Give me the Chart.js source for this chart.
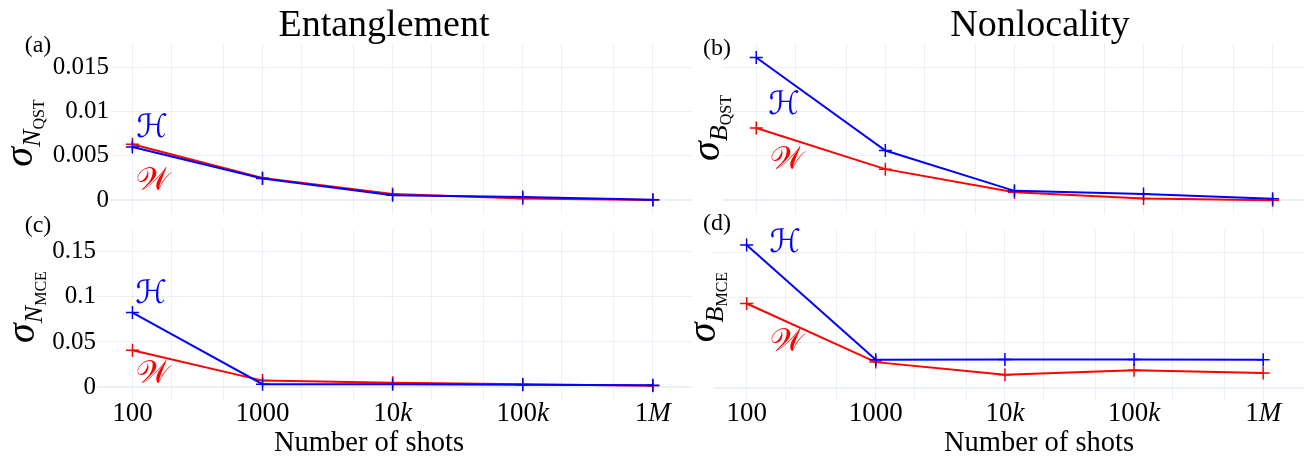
<!DOCTYPE html>
<html>
<head>
<meta charset="utf-8">
<script src="https://cdn.jsdelivr.net/npm/chart.js@4.4.1/dist/chart.umd.min.js"></script>
<style>
  body { margin: 0; background: #fff; }
  #wrap { position: relative; width: 1312px; height: 459px; overflow: hidden; background: #fff; font-family: 'Liberation Serif', serif; color: #000; }
  .pane { position: absolute; }
  .txt { position: absolute; white-space: nowrap; transform: translate(-50%, -50%); line-height: 1; }
  .ytitle { position: absolute; white-space: nowrap; transform: translate(-50%, -50%) rotate(-90deg); line-height: 1; }
  .ytitle .s { font-style: italic; font-size: 40px; }
  .ytitle .n { font-style: italic; font-size: 26px; position: relative; top: 8px; }
  .ytitle .q { font-size: 16px; position: relative; top: 12px; }
  .scr { position: absolute; transform: translate(-50%, -50%); font-family: 'DejaVu Sans', sans-serif; font-size: 32px; line-height: 1; }
</style>
</head>
<body>
<div id="wrap">
  <div class="pane" style="left:0;top:0"><canvas id="cA" width="700" height="222"></canvas></div>
  <div class="pane" style="left:700px;top:0"><canvas id="cB" width="612" height="222"></canvas></div>
  <div class="pane" style="left:0;top:222px"><canvas id="cC" width="700" height="237"></canvas></div>
  <div class="pane" style="left:700px;top:222px"><canvas id="cD" width="612" height="237"></canvas></div>

  <div class="txt" style="left:384px;top:23px;font-size:38px">Entanglement</div>
  <div class="txt" style="left:1040px;top:23px;font-size:38px">Nonlocality</div>

  <div class="txt" style="left:38px;top:44px;font-size:24px">(a)</div>
  <div class="txt" style="left:717px;top:47px;font-size:24px">(b)</div>
  <div class="txt" style="left:38px;top:224px;font-size:24px">(c)</div>
  <div class="txt" style="left:717px;top:222px;font-size:24px">(d)</div>

  <div class="ytitle" style="left:19px;top:133px"><span class="s">σ</span><span class="n">N</span><span class="q">QST</span></div>
  <div class="ytitle" style="left:706px;top:128px"><span class="s">σ</span><span class="n">B</span><span class="q">QST</span></div>
  <div class="ytitle" style="left:21px;top:307px"><span class="s">σ</span><span class="n">N</span><span class="q">MCE</span></div>
  <div class="ytitle" style="left:702px;top:307px"><span class="s">σ</span><span class="n">B</span><span class="q">MCE</span></div>

  <div class="scr" style="left:152px;top:126px;color:#0000ff">ℋ</div>
  <div class="scr" style="left:153px;top:179px;color:#ff0000">𝒲</div>
  <div class="scr" style="left:784px;top:103px;color:#0000ff">ℋ</div>
  <div class="scr" style="left:787px;top:158px;color:#ff0000">𝒲</div>
  <div class="scr" style="left:151px;top:292px;color:#0000ff">ℋ</div>
  <div class="scr" style="left:153px;top:372px;color:#ff0000">𝒲</div>
  <div class="scr" style="left:785px;top:241px;color:#0000ff">ℋ</div>
  <div class="scr" style="left:787px;top:340px;color:#ff0000">𝒲</div>

  <div class="txt" style="left:369px;top:442px;font-size:28.5px">Number of shots</div>
  <div class="txt" style="left:1039px;top:442px;font-size:28.5px">Number of shots</div>
</div>
<script>
// number of shots
const shots = [100, 1000, 10000, 100000, 1000000];
const xTickLabels = ['100', '1000', '10k', '100k', '1M'];
const xGridVals = [100, 200, 500, 1000, 2000, 5000, 10000, 20000, 50000, 100000, 200000, 500000, 1000000];

// y ticks
const yTicksNQST = [0, 0.005, 0.01, 0.015];
const yLabelsNQST = ['0', '0.005', '0.01', '0.015'];
const yTicksNMCE = [0, 0.05, 0.1, 0.15];
const yLabelsNMCE = ['0', '0.05', '0.1', '0.15'];
const yTicksB = [0, 1, 2, 3];

// (a) entanglement, QST
const hNQST = [0.0060, 0.00245, 0.00055, 0.00037, 0.00005];
const wNQST = [0.0063, 0.0025, 0.0007, 0.0002, 0.00001];
// (b) nonlocality, QST (no tick labels in the original)
const hBQST = [3.22, 1.12, 0.21, 0.14, 0.03];
const wBQST = [1.63, 0.70, 0.18, 0.04, 0.0];
// (c) entanglement, MCE
const hNMCE = [0.0826, 0.0032, 0.0030, 0.0025, 0.0020];
const wNMCE = [0.0408, 0.0071, 0.0047, 0.0030, 0.0013];
// (d) nonlocality, MCE
const hBMCE = [3.17, 0.62, 0.63, 0.63, 0.62];
const wBMCE = [1.87, 0.57, 0.29, 0.39, 0.33];

const GRID = '#EBF0F8';
const FONT = 'Liberation Serif';

// tick labels under the bottom panels (k and M in italic like the latex)
const xLabelPlugin = {
  id: 'xlabels',
  afterDraw(chart) {
    if (!chart.options.showXLabels) return;
    const ctx = chart.ctx, xs = chart.scales.x;
    const y = chart.chartArea.bottom + 14;
    ctx.save();
    ctx.fillStyle = '#000';
    ctx.textBaseline = 'middle';
    xTickLabels.forEach((lab, i) => {
      const m = lab.match(/^(\d+)(\D*)$/);
      const num = m[1], suf = m[2];
      ctx.font = '27px ' + FONT;
      const w1 = ctx.measureText(num).width;
      ctx.font = 'italic 27px ' + FONT;
      const w2 = suf ? ctx.measureText(suf).width : 0;
      let x = xs.getPixelForValue(shots[i]) - (w1 + w2) / 2;
      ctx.font = '27px ' + FONT;
      ctx.textAlign = 'left';
      ctx.fillText(num, x, y);
      if (suf) {
        ctx.font = 'italic 27px ' + FONT;
        ctx.fillText(suf, x + w1, y);
      }
    });
    ctx.restore();
  }
};

function makePanel(id, p) {
  const canvas = document.getElementById(id);
  const ds = (lab, vals, col) => ({
    label: lab,
    data: shots.map((x, i) => ({ x: x, y: vals[i] })),
    borderColor: col, backgroundColor: col,
    borderWidth: 2, tension: 0,
    pointStyle: 'cross', pointRadius: 6.5, pointBorderWidth: 1.5, pointHoverRadius: 6.5
  });
  return new Chart(canvas, {
    type: 'line',
    data: { datasets: [ds('H', p.h, '#0000ff'), ds('W', p.w, '#ff0000')] },
    options: {
      responsive: false, animation: false, showXLabels: p.xLabels,
      layout: { padding: p.pad },
      plugins: { legend: { display: false }, tooltip: { enabled: false } },
      scales: {
        x: {
          type: 'logarithmic', min: p.xmin, max: p.xmax,
          afterBuildTicks: s => { s.ticks = xGridVals.map(v => ({ value: v })); },
          afterFit: s => { s.height = p.xh; s.paddingLeft = 0; s.paddingRight = 0; },
          ticks: { display: false },
          grid: { color: GRID, lineWidth: 1, drawTicks: false },
          border: { display: false }
        },
        y: {
          type: 'linear', min: p.ymin, max: p.ymax,
          afterBuildTicks: s => { s.ticks = p.yTicks.map(v => ({ value: v })); },
          afterFit: s => { s.width = p.yw; s.paddingTop = 0; s.paddingBottom = 0; },
          ticks: {
            display: !!p.yLabels, color: '#000', padding: 1,
            font: { family: FONT, size: 25 },
            callback: v => p.yLabels ? p.yLabels[p.yTicks.indexOf(v)] : ''
          },
          grid: { color: GRID, lineWidth: c => (c.tick && c.tick.value === 0 ? 2 : 1), drawTicks: false },
          border: { display: false }
        }
      }
    },
    plugins: [xLabelPlugin]
  });
}

// (a)
makePanel('cA', {
  h: hNQST, w: wNQST, xmin: 67.3, xmax: 2.0e6, ymin: -0.00156, ymax: 0.01773,
  yTicks: yTicksNQST, yLabels: yLabelsNQST, yw: 110, xh: 0,
  pad: { left: 0, right: 5, top: 43, bottom: 2 }, xLabels: false
});
// (b)
makePanel('cB', {
  h: hBQST, w: wBQST, xmin: 54.3, xmax: 1.75e6, ymin: -0.312, ymax: 3.546,
  yTicks: yTicksB, yLabels: null, yw: 22, xh: 0,
  pad: { left: 0, right: 0, top: 43, bottom: 2 }, xLabels: false
});
// (c)
makePanel('cC', {
  h: hNMCE, w: wNMCE, xmin: 53.4, xmax: 2.0e6, ymin: -0.0144, ymax: 0.1742,
  yTicks: yTicksNMCE, yLabels: yLabelsNMCE, yw: 97, xh: 59,
  pad: { left: 0, right: 5, top: 1, bottom: 0 }, xLabels: true
});
// (d)
makePanel('cD', {
  h: hBMCE, w: wBMCE, xmin: 54.9, xmax: 2.07e6, ymin: -0.27, ymax: 3.50,
  yTicks: yTicksB, yLabels: null, yw: 13, xh: 59,
  pad: { left: 0, right: 0, top: 1, bottom: 0 }, xLabels: true
});
</script>
</body>
</html>
